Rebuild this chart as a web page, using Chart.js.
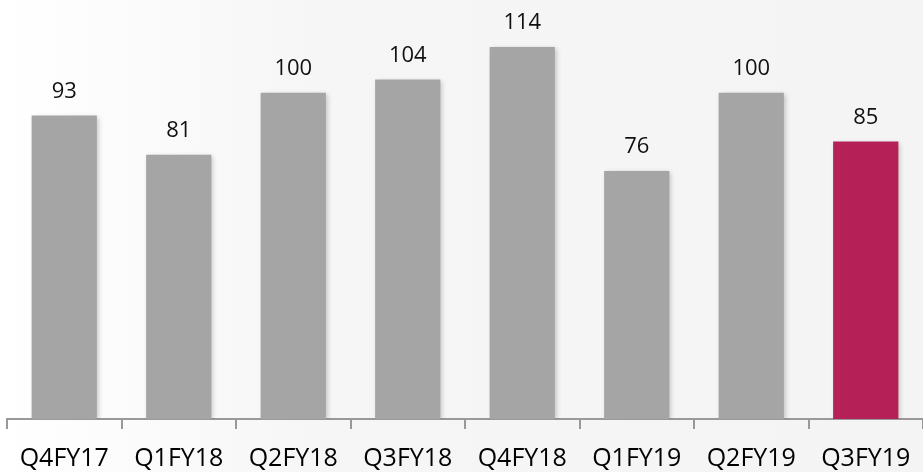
<!DOCTYPE html>
<html>
<head>
<meta charset="utf-8">
<script src="https://cdn.jsdelivr.net/npm/chart.js@4"></script>
<style>
  html, body { margin: 0; padding: 0; }
  body {
    width: 923px; height: 472px; overflow: hidden;
    background: linear-gradient(90deg, #ffffff 0%, #f6f6f6 35%, #f4f4f4 100%);
  }
  #wrap { position: relative; width: 923px; height: 472px; }
</style>
</head>
<body>
<div id="wrap"><canvas id="bars"></canvas></div>
<script>
// quarters and values
const quarters = ['Q4FY17', 'Q1FY18', 'Q2FY18', 'Q3FY18', 'Q4FY18', 'Q1FY19', 'Q2FY19', 'Q3FY19'];
const values = [93, 81, 100, 104, 114, 76, 100, 85];
const barColors = ['#a5a5a5', '#a5a5a5', '#a5a5a5', '#a5a5a5', '#a5a5a5', '#a5a5a5', '#a5a5a5', '#b52156'];

// soft shadow behind bars
const barShadow = {
    id: 'barShadow',
    beforeDatasetsDraw(chart) {
        const ctx = chart.ctx;
        ctx.save();
        ctx.shadowColor = 'rgba(0,0,0,0.22)';
        ctx.shadowBlur = 5;
        ctx.shadowOffsetX = 2;
        ctx.shadowOffsetY = 1;
    },
    afterDatasetsDraw(chart) {
        chart.ctx.restore();
    }
};

// value labels above each bar
const valueLabels = {
    id: 'valueLabels',
    afterDatasetsDraw(chart) {
        const ctx = chart.ctx;
        const meta = chart.getDatasetMeta(0);
        ctx.save();
        ctx.font = '22px "Open Sans", sans-serif';
        ctx.fillStyle = '#111';
        ctx.textAlign = 'center';
        ctx.textBaseline = 'alphabetic';
        meta.data.forEach((bar, i) => {
            ctx.fillText(values[i], bar.x, bar.y - 18);
        });
        ctx.restore();
    }
};

new Chart(document.getElementById('bars'), {
    type: 'bar',
    data: {
        labels: quarters,
        datasets: [{
            data: values,
            backgroundColor: barColors,
            borderWidth: 0,
            categoryPercentage: 1,
            barPercentage: 0.57
        }]
    },
    options: {
        responsive: true,
        maintainAspectRatio: false,
        animation: false,
        layout: { padding: { left: 7, right: 0, top: 0, bottom: 0 } },
        plugins: {
            legend: { display: false },
            tooltip: { enabled: false }
        },
        scales: {
            x: {
                afterFit(scale) {
                    scale.height = 53;
                    scale.paddingLeft = 0;
                    scale.paddingRight = 0;
                },
                grid: { display: true, drawOnChartArea: false, drawTicks: true, tickLength: 10, color: '#999', lineWidth: 2 },
                border: { display: true, color: '#999', width: 2 },
                ticks: { color: '#000', font: { size: 25, family: '"Open Sans", sans-serif' }, padding: 15, maxRotation: 0 }
            },
            y: {
                display: false,
                min: 0,
                max: 128.4
            }
        }
    },
    plugins: [barShadow, valueLabels]
});
</script>
</body>
</html>
